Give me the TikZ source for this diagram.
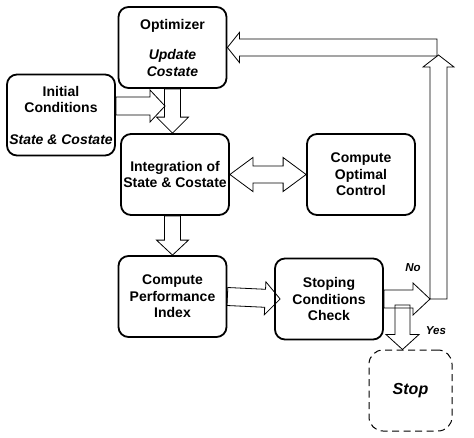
\documentclass[tikz,border=0pt]{standalone}
\usepackage{fontspec}
\setmainfont{Liberation Sans}
\usetikzlibrary{calc}
\tikzset{
  box/.style={draw, line width=1.8pt, rounded corners=10pt, minimum width=108pt, minimum height=81pt, inner sep=0pt, align=center, font=\fontsize{14}{16.5}\selectfont\bfseries},
  stopbox/.style={box, line width=1pt, dashed, dash pattern=on 7pt off 4.5pt, rounded corners=14pt, minimum width=83pt, font=\fontsize{16}{18}\selectfont\bfseries\itshape},
  lbl/.style={inner sep=0pt, font=\fontsize{11.5}{13}\selectfont\bfseries\itshape},
  blockline/.style={draw, line width=0.8pt, line join=miter}
}
\newcommand\blockarr[5]{%
  \coordinate (ba-a) at (#1);
  \coordinate (ba-b) at (#2);
  \coordinate (ba-h) at ($(ba-b)!#5!(ba-a)$);
  \path[blockline] ($(ba-a)!#3!90:(ba-b)$) -- ($(ba-h)!#3!90:(ba-b)$) -- ($(ba-h)!#4!90:(ba-b)$) -- (ba-b) -- ($(ba-h)!#4!-90:(ba-b)$) -- ($(ba-h)!#3!-90:(ba-b)$) -- ($(ba-a)!#3!-90:(ba-b)$) -- cycle;
}
\newcommand\dblockarr[5]{%
  \coordinate (ba-a) at (#1);
  \coordinate (ba-b) at (#2);
  \coordinate (ba-h) at ($(ba-b)!#5!(ba-a)$);
  \coordinate (ba-g) at ($(ba-a)!#5!(ba-b)$);
  \path[blockline] (ba-a) -- ($(ba-g)!#4!-90:(ba-b)$) -- ($(ba-g)!#3!-90:(ba-b)$) -- ($(ba-h)!#3!90:(ba-a)$) -- ($(ba-h)!#4!90:(ba-a)$) -- (ba-b) -- ($(ba-h)!#4!-90:(ba-a)$) -- ($(ba-h)!#3!-90:(ba-a)$) -- ($(ba-g)!#3!90:(ba-b)$) -- ($(ba-g)!#4!90:(ba-b)$) -- cycle;
}
\begin{document}
\begin{tikzpicture}[x=1pt, y=-1pt]
  \useasboundingbox (0,0) rectangle (474,437);
  \node[box] (opt) at (172.5,47.5) {Optimizer\\[14pt]\textit{Update}\\\textit{Costate}};
  \node[box] (init) at (61,115) {Initial\\Conditions\\[15pt]\textit{State \& Costate}};
  \node[box] (integ) at (175,174.5) {Integration of\\State \& Costate};
  \node[box] (ctrl) at (361,174.5) {Compute\\Optimal\\Control};
  \node[box] (perf) at (172.5,296.5) {Compute\\Performance\\Index};
  \node[box] (check) at (329,299) {Stoping\\Conditions\\Check};
  \node[stopbox] (stop) at (410.5,390.5) {Stop};
  \node[lbl] (no) at (413,268) {No};
  \node[lbl] (yes) at (436,331) {Yes};
  \coordinate (icTip) at (165,106);
  \coordinate (noTip) at (430,299);
  \coordinate (colBot) at (438.5,299);
  \coordinate (colTop) at (438.5,55);
  \coordinate (topR) at (437,47.5);
  \coordinate (yesTop) at (402.5,305);
  \blockarr{init.east |- icTip}{icTip}{9pt}{16pt}{15pt}
  \blockarr{opt.south}{opt.south |- integ.north}{8pt}{16pt}{16pt}
  \dblockarr{integ.east}{ctrl.west}{8.5pt}{17pt}{23pt}
  \blockarr{perf.north |- integ.south}{perf.north}{8pt}{16pt}{15pt}
  \blockarr{perf.east}{$(check.west)+(6,0)$}{9pt}{16.5pt}{15pt}
  \blockarr{check.east |- noTip}{noTip}{9pt}{16pt}{17pt}
  \blockarr{colBot}{colTop}{8.5pt}{15.5pt}{12pt}
  \blockarr{topR}{opt.east}{8.5pt}{15pt}{12pt}
  \blockarr{yesTop}{yesTop |- stop.north}{7.5pt}{16.5pt}{15pt}
\end{tikzpicture}
\end{document}
